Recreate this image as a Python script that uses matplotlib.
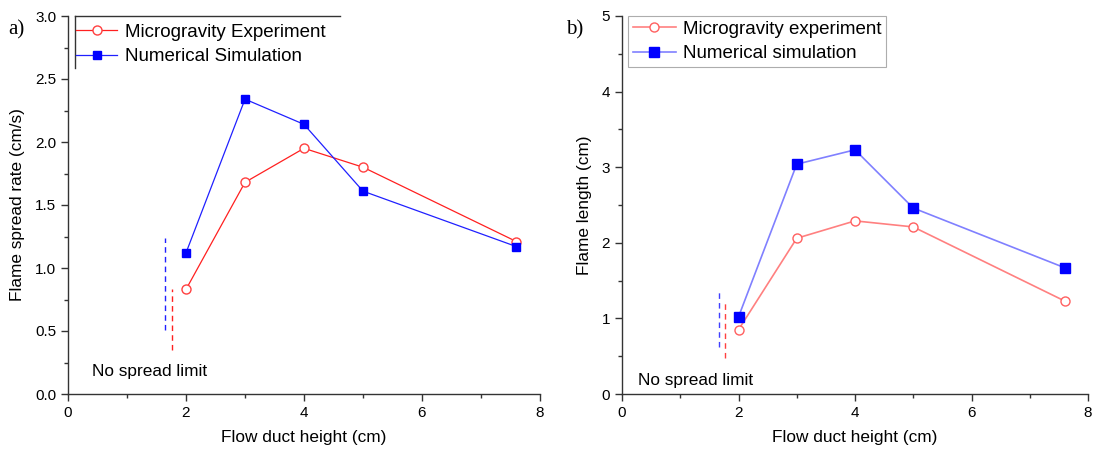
import matplotlib
matplotlib.use("Agg")
import matplotlib.pyplot as plt
from matplotlib.ticker import MultipleLocator, FormatStrFormatter
from matplotlib.lines import Line2D

plt.rcParams['font.family'] = ['Liberation Sans', 'DejaVu Sans']

# ---- data ----
height = [2, 3, 4, 5, 7.6]

a_exp = [0.83, 1.68, 1.95, 1.80, 1.21]
a_sim = [1.12, 2.34, 2.14, 1.61, 1.17]
a_lim_sim_x = [1.64, 1.64]
a_lim_sim_y = [0.51, 1.24]
a_lim_exp_x = [1.76, 1.76]
a_lim_exp_y = [0.35, 0.83]

b_exp = [0.85, 2.06, 2.29, 2.21, 1.23]
b_sim = [1.02, 3.04, 3.23, 2.46, 1.67]
b_lim_sim_x = [1.66, 1.66]
b_lim_sim_y = [0.62, 1.35]
b_lim_exp_x = [1.76, 1.76]
b_lim_exp_y = [0.48, 1.24]

fig = plt.figure(figsize=(10.94, 4.55), dpi=100)
axa = fig.add_axes([68/1094, 1-394/455, (540-68)/1094, (394-16)/455])
axb = fig.add_axes([622/1094, 1-394/455, (1088-622)/1094, (394-16)/455])

def style(ax, ymax, ymaj, ymin):
    ax.set_xlim(0, 8)
    ax.set_ylim(0, ymax)
    ax.xaxis.set_major_locator(MultipleLocator(2))
    ax.xaxis.set_minor_locator(MultipleLocator(1))
    ax.yaxis.set_major_locator(MultipleLocator(ymaj))
    ax.yaxis.set_minor_locator(MultipleLocator(ymin))
    for s in ['top', 'right']:
        ax.spines[s].set_visible(False)
    for s in ['left', 'bottom']:
        ax.spines[s].set_linewidth(1.0)
        ax.spines[s].set_color('#333333')
    ax.tick_params(which='major', direction='out', length=5, width=1, labelsize=11, colors='#333333', labelcolor='black')
    ax.tick_params(which='minor', direction='out', length=3, width=1, colors='#333333')
    ax.set_xlabel('Flow duct height (cm)', fontsize=12.4, labelpad=7)

# Panel a
style(axa, 3.0, 0.5, 0.25)
axa.yaxis.set_major_formatter(FormatStrFormatter('%.1f'))
axa.plot(height, a_exp, color='#ff2020', lw=0.9, marker='o', ms=6.5, mfc='white', mec='#ff4040', mew=1.0,
         label='Microgravity Experiment', zorder=3)
axa.plot(height, a_sim, color='#2020ff', lw=0.9, marker='s', ms=6, mfc='#0000ff', mec='#0000ff',
         label='Numerical Simulation', zorder=3)
axa.plot(a_lim_sim_x, a_lim_sim_y, color='#2020ff', lw=1.0, ls=(0, (4, 3)))
axa.plot(a_lim_exp_x, a_lim_exp_y, color='#ff2020', lw=1.0, ls=(0, (4, 3)))
axa.text(0.4, 0.14, 'No spread limit', fontsize=12.4)
axa.set_ylabel('Flame spread rate (cm/s)', fontsize=12.4, labelpad=7)
leg = axa.legend(loc='upper left', bbox_to_anchor=(0.009, 0.989), frameon=False, fontsize=13.5,
                 handlelength=2.2, handletextpad=0.4, borderpad=0.2, labelspacing=0.38,
                 borderaxespad=0.0)
axa.add_line(Line2D([7/472, 272/472], [1.0, 1.0], transform=axa.transAxes, color='#333333', lw=1.0, clip_on=False))
axa.add_line(Line2D([7/472, 7/472], [1.0, 1-52/378], transform=axa.transAxes, color='#333333', lw=1.0, clip_on=False))
fig.text(8/1094, 1-30/455, 'a)', fontsize=15, family='Liberation Serif', va='center')

# Panel b
style(axb, 5, 1, 0.5)
axb.plot(height, b_exp, color='#ff8080', lw=1.2, marker='o', ms=6.5, mfc='white', mec='#ff6060', mew=1.0,
         label='Microgravity experiment', zorder=3)
axb.plot(height, b_sim, color='#8080ff', lw=1.2, marker='s', ms=6.5, mfc='#0000ff', mec='#0000ff',
         label='Numerical simulation', zorder=3)
axb.plot(b_lim_sim_x, b_lim_sim_y, color='#4040ff', lw=1.0, ls=(0, (4, 3)))
axb.plot(b_lim_exp_x, b_lim_exp_y, color='#ff4040', lw=1.0, ls=(0, (4, 3)))
axb.text(0.28, 0.12, 'No spread limit', fontsize=12.4)
axb.set_ylabel('Flame length (cm)', fontsize=12.4, labelpad=7)
legb = axb.legend(loc='upper left', bbox_to_anchor=(0.013, 1.0), frameon=True, fontsize=13.5,
                  handlelength=2.3, handletextpad=0.38, borderpad=0.25, labelspacing=0.38, fancybox=False,
                  borderaxespad=0.0)
legb.get_frame().set_edgecolor('#999999')
legb.get_frame().set_linewidth(0.8)
fig.text(566/1094, 1-30/455, 'b)', fontsize=15, family='Liberation Serif', va='center')

fig.savefig('out.png', dpi=100)
